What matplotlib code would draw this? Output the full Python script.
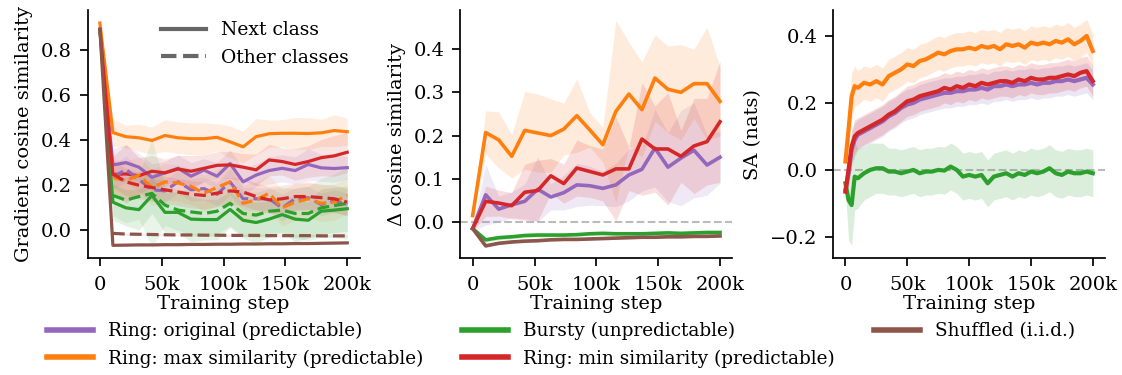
import numpy as np
import matplotlib
matplotlib.use("Agg")
import matplotlib.pyplot as plt
from matplotlib.lines import Line2D
from matplotlib.ticker import FuncFormatter

plt.rcParams['font.family'] = ['DejaVu Serif']
plt.rcParams['font.size'] = 14
plt.rcParams['axes.linewidth'] = 1.25
plt.rcParams['xtick.major.width'] = 1.25
plt.rcParams['ytick.major.width'] = 1.25
plt.rcParams['xtick.major.size'] = 6
plt.rcParams['ytick.major.size'] = 6
plt.rcParams['xtick.major.pad'] = 7
plt.rcParams['ytick.major.pad'] = 5

names = ["Ring: original (predictable)", "Ring: max similarity (predictable)",
         "Bursty (unpredictable)", "Ring: min similarity (predictable)",
         "Shuffled (i.i.d.)"]
colors = ["#9467bd", "#ff7f0e", "#2ca02c", "#d62728", "#8c564b"]

# gradient / delta checkpoints
steps = np.linspace(0, 200_000, 20)

# --- gradient cosine similarity, next class (solid) ---
next_purple = [0.89, 0.29, 0.30, 0.28, 0.235, 0.255, 0.275, 0.24, 0.267, 0.24,
               0.296, 0.215, 0.245, 0.265, 0.275, 0.265, 0.292, 0.277, 0.274, 0.278]
next_orange = [0.918, 0.433, 0.415, 0.41, 0.398, 0.42, 0.41, 0.406, 0.406, 0.412,
               0.392, 0.37, 0.415, 0.428, 0.43, 0.43, 0.429, 0.432, 0.442, 0.437]
next_green = [0.89, 0.125, 0.10, 0.092, 0.155, 0.08, 0.08, 0.05, 0.048, 0.048,
              0.093, 0.045, 0.035, 0.05, 0.07, 0.05, 0.045, 0.085, 0.09, 0.096]
next_red = [0.89, 0.248, 0.25, 0.242, 0.262, 0.255, 0.272, 0.262, 0.275, 0.288,
            0.29, 0.28, 0.268, 0.312, 0.305, 0.292, 0.305, 0.322, 0.33, 0.346]
next_brown = [0.89, -0.066, -0.065, -0.064, -0.064, -0.063, -0.063, -0.062, -0.062, -0.061,
              -0.061, -0.06, -0.06, -0.059, -0.059, -0.058, -0.058, -0.057, -0.056, -0.055]

next_purple_sd = [0.01, 0.07, 0.08, 0.06, 0.06, 0.05, 0.06, 0.06, 0.05, 0.06,
                  0.06, 0.06, 0.05, 0.06, 0.06, 0.06, 0.07, 0.06, 0.06, 0.05]
next_orange_sd = [0.01, 0.06, 0.05, 0.06, 0.06, 0.07, 0.07, 0.07, 0.07, 0.06,
                  0.07, 0.07, 0.08, 0.06, 0.06, 0.07, 0.07, 0.06, 0.07, 0.06]
next_green_sd = [0.01, 0.08, 0.08, 0.09, 0.08, 0.09, 0.09, 0.1, 0.09, 0.09,
                 0.08, 0.08, 0.09, 0.08, 0.08, 0.1, 0.08, 0.1, 0.1, 0.1]
next_red_sd = [0.01, 0.08, 0.13, 0.08, 0.07, 0.06, 0.06, 0.07, 0.06, 0.06,
               0.06, 0.06, 0.07, 0.07, 0.06, 0.07, 0.07, 0.08, 0.09, 0.09]
next_brown_sd = [0.005] * 20

# --- gradient cosine similarity, other classes (dashed) ---
other_purple = [np.nan, 0.235, 0.27, 0.225, 0.18, 0.175, 0.215, 0.18, 0.185, 0.16,
                0.215, 0.14, 0.14, 0.14, 0.1, 0.14, 0.145, 0.115, 0.13, 0.115]
other_orange = [np.nan, 0.235, 0.22, 0.245, 0.19, 0.215, 0.21, 0.195, 0.165, 0.19,
                0.215, 0.12, 0.135, 0.165, 0.1, 0.125, 0.14, 0.12, 0.125, 0.155]
other_green = [np.nan, 0.155, 0.134, 0.15, 0.164, 0.112, 0.09, 0.082, 0.075, 0.085,
               0.12, 0.075, 0.068, 0.085, 0.09, 0.075, 0.075, 0.10, 0.11, 0.12]
other_red = [np.nan, 0.25, 0.215, 0.2, 0.19, 0.18, 0.17, 0.16, 0.155, 0.165,
             0.175, 0.17, 0.15, 0.135, 0.14, 0.15, 0.15, 0.145, 0.14, 0.125]
other_brown = [np.nan, -0.013, -0.016, -0.017, -0.018, -0.019, -0.02, -0.02, -0.021, -0.021,
               -0.022, -0.022, -0.022, -0.023, -0.023, -0.023, -0.023, -0.024, -0.024, -0.024]

other_purple_sd = [0, 0.05, 0.06, 0.05, 0.05, 0.05, 0.05, 0.05, 0.05, 0.05,
                   0.06, 0.05, 0.05, 0.05, 0.06, 0.05, 0.05, 0.05, 0.05, 0.05]
other_orange_sd = [0, 0.08, 0.09, 0.08, 0.08, 0.08, 0.08, 0.08, 0.08, 0.08,
                   0.09, 0.08, 0.08, 0.08, 0.08, 0.08, 0.08, 0.08, 0.08, 0.08]
other_green_sd = [0, 0.09, 0.1, 0.1, 0.24, 0.09, 0.09, 0.1, 0.1, 0.1,
                  0.1, 0.1, 0.1, 0.1, 0.1, 0.11, 0.12, 0.13, 0.14, 0.16]
other_red_sd = [0, 0.06, 0.06, 0.06, 0.06, 0.06, 0.06, 0.06, 0.06, 0.06,
                0.06, 0.06, 0.06, 0.06, 0.06, 0.06, 0.06, 0.06, 0.06, 0.06]
other_brown_sd = [0, 0.005, 0.005, 0.005, 0.005, 0.005, 0.005, 0.005, 0.005, 0.005,
                  0.005, 0.005, 0.005, 0.005, 0.005, 0.005, 0.005, 0.005, 0.005, 0.005]

# --- delta cosine similarity ---
delta_purple = [-0.015, 0.063, 0.03, 0.04, 0.048, 0.076, 0.058, 0.068, 0.086, 0.084,
                0.078, 0.086, 0.109, 0.122, 0.171, 0.127, 0.148, 0.166, 0.132, 0.150]
delta_orange = [0.015, 0.207, 0.19, 0.152, 0.212, 0.206, 0.20, 0.215, 0.246, 0.213,
                0.179, 0.256, 0.296, 0.26, 0.333, 0.307, 0.30, 0.32, 0.32, 0.279]
delta_green = [-0.015, -0.041, -0.036, -0.034, -0.031, -0.030, -0.030, -0.030, -0.029, -0.027,
               -0.026, -0.027, -0.027, -0.027, -0.026, -0.025, -0.026, -0.025, -0.024, -0.024]
delta_red = [-0.015, 0.048, 0.044, 0.038, 0.069, 0.073, 0.107, 0.089, 0.125, 0.117,
             0.109, 0.123, 0.123, 0.192, 0.169, 0.169, 0.152, 0.176, 0.186, 0.232]
delta_brown = [-0.015, -0.055, -0.049, -0.046, -0.044, -0.043, -0.041, -0.040, -0.040, -0.039,
               -0.038, -0.037, -0.036, -0.035, -0.035, -0.034, -0.034, -0.033, -0.033, -0.032]

delta_purple_sd = [0.005, 0.07, 0.03, 0.03, 0.04, 0.075, 0.03, 0.04, 0.05, 0.045,
                   0.04, 0.05, 0.06, 0.05, 0.09, 0.08, 0.11, 0.11, 0.07, 0.06]
delta_orange_sd = [0.005, 0.05, 0.065, 0.05, 0.09, 0.09, 0.085, 0.06, 0.085, 0.04,
                   0.04, 0.21, 0.12, 0.11, 0.10, 0.10, 0.11, 0.08, 0.13, 0.08]
delta_green_sd = [0.003, 0.005, 0.005, 0.005, 0.005, 0.005, 0.004, 0.004, 0.004, 0.004,
                  0.004, 0.004, 0.004, 0.004, 0.004, 0.005, 0.004, 0.006, 0.005, 0.004]
delta_red_sd = [0.005, 0.035, 0.03, 0.03, 0.065, 0.07, 0.04, 0.045, 0.065, 0.06,
                0.06, 0.12, 0.05, 0.13, 0.10, 0.13, 0.06, 0.11, 0.10, 0.14]
delta_brown_sd = [0.003] * 20

# --- SA (nats) ---
sa_steps = [0, 2500, 5000, 7500] + list(range(10_000, 200_001, 5000))
sa_purple = [-0.06, -0.01, 0.06, 0.09, 0.105, 0.115, 0.125, 0.135, 0.145, 0.16,
             0.17, 0.185, 0.195, 0.2, 0.21, 0.215, 0.22, 0.225, 0.23, 0.23,
             0.235, 0.235, 0.24, 0.24, 0.245, 0.24, 0.25, 0.25, 0.255, 0.25,
             0.255, 0.255, 0.26, 0.255, 0.26, 0.26, 0.265, 0.265, 0.27, 0.265,
             0.27, 0.275, 0.255]
sa_orange = [0.025, 0.12, 0.22, 0.25, 0.245, 0.26, 0.255, 0.265, 0.255, 0.28,
             0.29, 0.30, 0.315, 0.31, 0.325, 0.33, 0.34, 0.35, 0.345, 0.355,
             0.36, 0.36, 0.365, 0.36, 0.37, 0.365, 0.37, 0.36, 0.375, 0.37,
             0.375, 0.365, 0.38, 0.375, 0.38, 0.375, 0.385, 0.38, 0.39, 0.375,
             0.385, 0.40, 0.355]
sa_green = [-0.04, -0.09, -0.105, -0.02, -0.025, -0.01, 0.0, 0.005, 0.005, -0.005,
            -0.005, -0.01, -0.005, 0.0, -0.01, -0.005, -0.005, 0.0, -0.002, 0.01,
            0.0, -0.02, -0.015, -0.02, -0.015, -0.04, -0.02, -0.015, -0.01, -0.02,
            -0.01, -0.015, -0.005, -0.01, -0.005, 0.005, -0.01, -0.015, -0.005, -0.01,
            -0.01, -0.005, -0.01]
sa_red = [-0.065, 0.0, 0.07, 0.10, 0.11, 0.12, 0.13, 0.14, 0.15, 0.165,
          0.175, 0.19, 0.205, 0.21, 0.22, 0.225, 0.23, 0.235, 0.245, 0.24,
          0.25, 0.245, 0.255, 0.25, 0.26, 0.255, 0.26, 0.265, 0.265, 0.26,
          0.27, 0.265, 0.275, 0.27, 0.27, 0.275, 0.275, 0.28, 0.285, 0.28,
          0.29, 0.295, 0.265]

sa_purple_sd = [0.01, 0.04, 0.05, 0.05] + [0.045] * 39
sa_orange_sd = [0.01, 0.05, 0.07, 0.06] + [0.05] * 39
sa_green_sd = [0.02, 0.12, 0.12, 0.1, 0.09, 0.08, 0.08, 0.075, 0.075] + [0.07] * 34
sa_red_sd = [0.01, 0.04, 0.05, 0.05] + [0.045] * 39

fig, axes = plt.subplots(1, 3, figsize=(11.22, 3.75), dpi=100)
plt.subplots_adjust(left=0.078, right=0.985, bottom=0.312, top=0.973, wspace=0.37)
ax1, ax2, ax3 = axes

# panel 1
next_means = [next_purple, next_orange, next_green, next_red, next_brown]
next_sds = [next_purple_sd, next_orange_sd, next_green_sd, next_red_sd, next_brown_sd]
other_means = [other_purple, other_orange, other_green, other_red, other_brown]
other_sds = [other_purple_sd, other_orange_sd, other_green_sd, other_red_sd, other_brown_sd]
for m, s, c in zip(next_means, next_sds, colors):
    m, s = np.array(m), np.array(s)
    ax1.fill_between(steps, m - s, m + s, color=c, alpha=0.13, lw=0)
    ax1.plot(steps, m, color=c, lw=2.3)
for m, s, c in zip(other_means, other_sds, colors):
    m, s = np.array(m), np.array(s)
    ax1.fill_between(steps, m - s, m + s, color=c, alpha=0.1, lw=0)
    ax1.plot(steps, m, color=c, lw=2.3, ls='--')
ax1.set_ylim(-0.122, 0.975)
ax1.set_yticks([0.0, 0.2, 0.4, 0.6, 0.8])
ax1.set_ylabel("Gradient cosine similarity", labelpad=6)
style_handles = [Line2D([], [], color='#666666', lw=3, ls='-'),
                 Line2D([], [], color='#666666', lw=3, ls='--')]
ax1.legend(style_handles, ["Next class", "Other classes"], loc='upper right',
           frameon=False, handlelength=2.4, fontsize=13.5, borderaxespad=0.2)

# panel 2
delta_means = [delta_purple, delta_orange, delta_green, delta_red, delta_brown]
delta_sds = [delta_purple_sd, delta_orange_sd, delta_green_sd, delta_red_sd, delta_brown_sd]
ax2.axhline(0, color='#bbbbbb', lw=1.5, ls='--', zorder=0)
for m, s, c in zip(delta_means, delta_sds, colors):
    m, s = np.array(m), np.array(s)
    ax2.fill_between(steps, m - s, m + s, color=c, alpha=0.15, lw=0)
    ax2.plot(steps, m, color=c, lw=2.6)
ax2.set_ylim(-0.083, 0.49)
ax2.set_yticks([0.0, 0.1, 0.2, 0.3, 0.4])
ax2.set_ylabel("Δ cosine similarity", labelpad=6)

# panel 3
sa_means = [sa_purple, sa_orange, sa_green, sa_red]
sa_sds = [sa_purple_sd, sa_orange_sd, sa_green_sd, sa_red_sd]
ax3.axhline(0, color='#bbbbbb', lw=1.5, ls='--', zorder=0)
for m, s, c in zip(sa_means, sa_sds, colors[:4]):
    m, s = np.array(m), np.array(s)
    ax3.fill_between(sa_steps, m - s, m + s, color=c, alpha=0.17, lw=0)
    ax3.plot(sa_steps, m, color=c, lw=3)
ax3.set_ylim(-0.263, 0.477)
ax3.set_yticks([-0.2, 0.0, 0.2, 0.4])
ax3.set_ylabel("SA (nats)", labelpad=6)

kfmt = FuncFormatter(lambda v, p: "0" if v == 0 else f"{int(v / 1000)}k")
for ax in axes:
    ax.set_xlim(-10_000, 210_000)
    ax.set_xticks([0, 50_000, 100_000, 150_000, 200_000])
    ax.xaxis.set_major_formatter(kfmt)
    ax.set_xlabel("Training step", labelpad=1)
    ax.spines['top'].set_visible(False)
    ax.spines['right'].set_visible(False)

handles = [Line2D([], [], color=c, lw=4) for c in colors]
fig.legend(handles, names, loc='lower center', bbox_to_anchor=(0.5, -0.025),
           ncol=3, frameon=False, handlelength=2.5, columnspacing=2.1, fontsize=13.3,
           labelspacing=0.5)

plt.savefig("out.png", dpi=100)
